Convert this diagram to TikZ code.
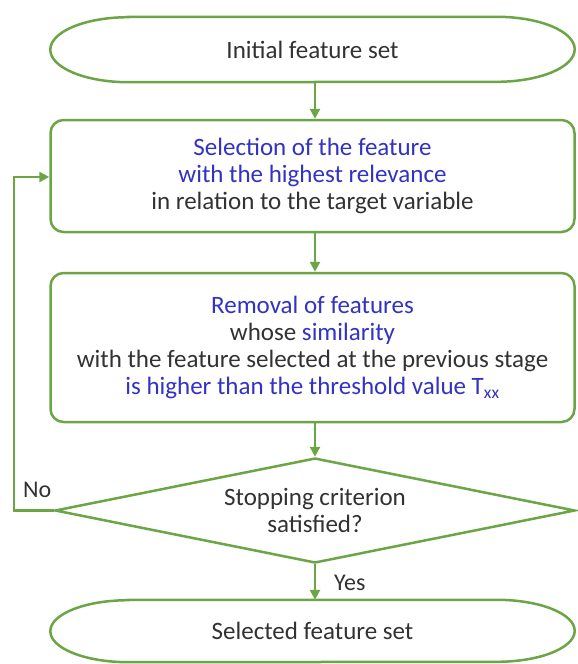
\documentclass[tikz,border=0pt]{standalone}
\usepackage{fontspec}
\setmainfont{Carlito}
\usetikzlibrary{arrows.meta,shapes.geometric}
\definecolor{lgreen}{RGB}{108,165,70}
\definecolor{tblue}{RGB}{50,50,196}
\definecolor{tgray}{RGB}{50,50,50}
\tikzset{
  x=1pt,y=-1pt,
  every node/.style={font=\fontsize{25}{27}\selectfont, text=tgray, align=center, inner sep=0pt},
  term/.style={minimum width=524pt, minimum height=#1},
  termline/.style={draw=lgreen, line width=2.5pt},
  procbox/.style={draw=lgreen, line width=2.5pt, rounded corners=13pt, minimum width=524pt, minimum height=#1},
  decbox/.style={draw=lgreen, line width=2.5pt, diamond, aspect=4.97, minimum width=520pt, minimum height=105pt},
  conn/.style={draw=lgreen, line width=2.5pt, -{Triangle[length=10pt,width=10pt]}},
  lbl/.style={font=\fontsize{24}{26}\selectfont, text=tgray},
}
\newcommand{\hl}[1]{\textcolor{tblue}{#1}}
\newcommand{\termshape}[2]{%
  \draw[termline] ([xshift=78pt]#1.north west) -- ([xshift=-78pt]#1.north east)
    arc[start angle=90, end angle=-90, x radius=78pt, y radius=#2]
    -- ([xshift=78pt]#1.south west)
    arc[start angle=270, end angle=90, x radius=78pt, y radius=#2] -- cycle;}
\begin{document}
\begin{tikzpicture}
\useasboundingbox (0,0) rectangle (578,664);
\fill[white] (0,0) rectangle (578,664);
\node[term=65pt] (start) at (312.5,49.5) {Initial feature set};
\termshape{start}{32.5pt}
\node[procbox=112pt] (sel) at (312.5,176) {\hl{Selection of the feature}\\ \hl{with the highest relevance}\\ in relation to the target variable};
\node[procbox=149pt] (rem) at (312.5,347.5) {\hl{Removal of features}\\ whose \hl{similarity}\\ with the feature selected at the previous stage\\ \hl{is higher than the threshold value T\textsubscript{xx}}};
\node[decbox] (stop) at (315,510.5) {Stopping criterion\\ satisfied?};
\node[term=62pt] (end) at (312.5,631) {Selected feature set};
\termshape{end}{31pt}
\coordinate (loopb) at (14,510.5);
\coordinate (loopt) at (14,177);
\draw[conn] (start.south -| stop.north) -- (sel.north -| stop.north);
\draw[conn] (sel.south -| stop.north) -- (rem.north -| stop.north);
\draw[conn] (rem.south -| stop.north) -- (stop.north);
\draw[conn] (stop.south) -- (end.north -| stop.south);
\draw[conn] (stop.west) -- (loopb) -- (loopt) -- (loopt -| sel.west);
\node[lbl, anchor=west] (no) at (23,490) {No};
\node[lbl, anchor=west] (yes) at (334,583) {Yes};
\end{tikzpicture}
\end{document}
